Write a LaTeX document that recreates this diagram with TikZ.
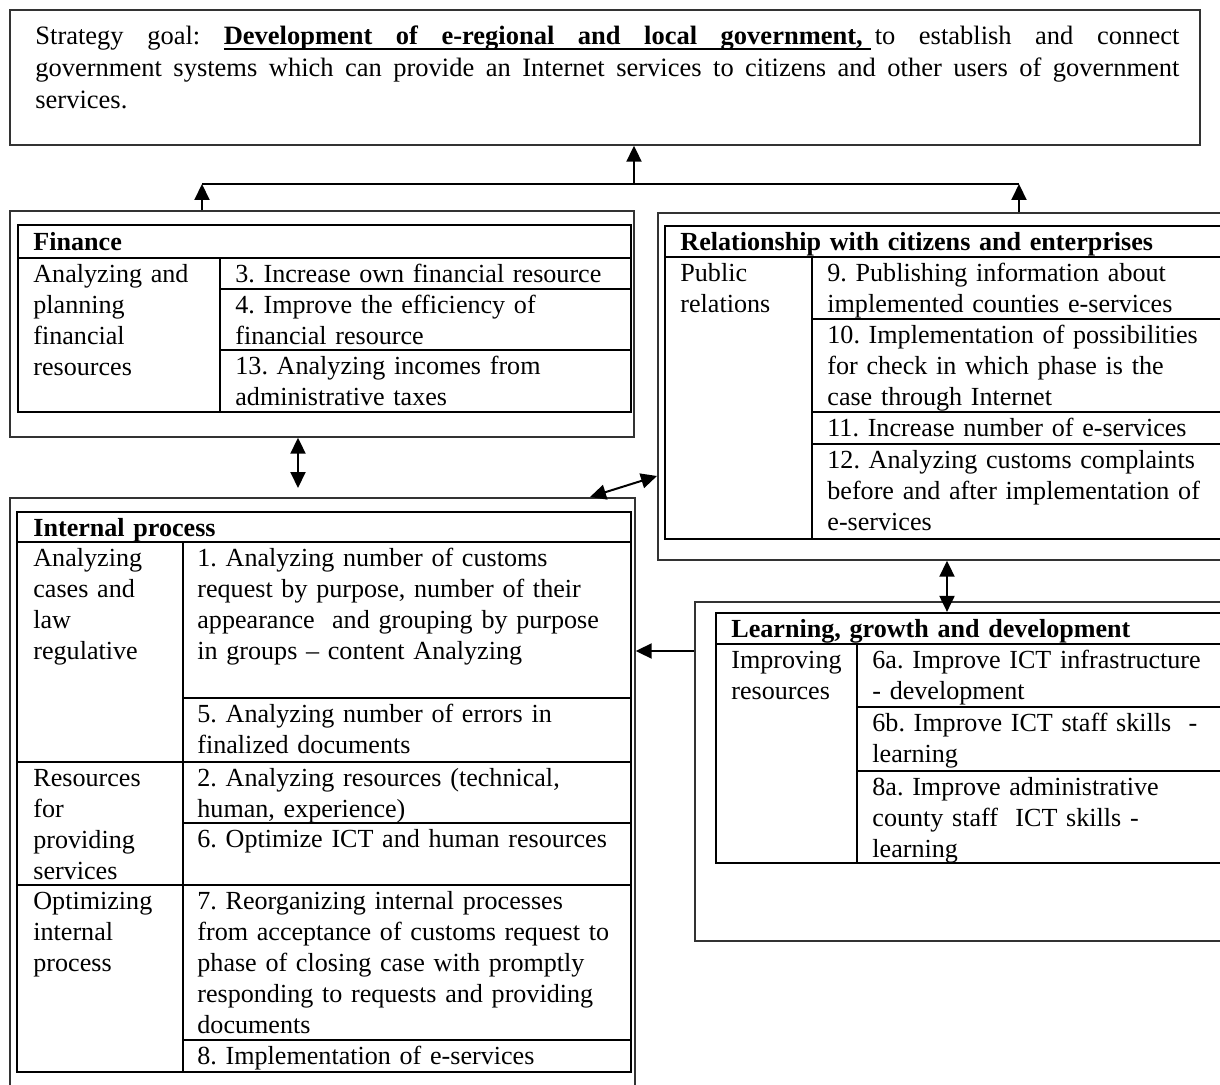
\documentclass[tikz,border=0pt]{standalone}
\usepackage{fontspec}
\setmainfont{Liberation Serif}
\usetikzlibrary{arrows.meta,fit}
\frenchspacing
\newcommand\ulword[1]{\setbox0=\hbox{#1}\leaders\hrule height -1.6pt depth 2.6pt\hskip\wd0\hskip-\wd0\box0}
\newcommand\ulsp{\leaders\hrule height -1.6pt depth 2.6pt\hskip\fontdimen2\font plus 1fil\relax}
\newcommand\ulend{\leaders\hrule height -1.6pt depth 2.6pt\hskip 4pt\relax}
\newcommand\filsp{\spaceskip=\fontdimen2\font plus 1fil\relax\xspaceskip=\spaceskip}
\tikzset{
  outerbox/.style={draw=black!80, line width=0.7pt, inner sep=0pt, fit={#1}},
  tblbox/.style={draw=black, line width=1.1pt, inner sep=0pt, fit={#1}},
  tbl/.style={draw=black, line width=1pt},
  txt/.style={anchor=north west, inner sep=0pt, text width=300pt, align=left,
    font=\fontsize{13.05pt}{15.5pt}\selectfont,
    execute at begin node={\rule{0pt}{12pt}}},
  conn/.style={line width=1pt},
  arr/.style={line width=1pt, -{Triangle[length=8pt,width=7.5pt]}},
  darr/.style={line width=1pt, {Triangle[length=8pt,width=7.5pt]}-{Triangle[length=8pt,width=7.5pt]}}
}
\begin{document}
\begin{tikzpicture}[x=0.5pt,y=-0.5pt]
\clip (0,0) rectangle (1220,1085);
\fill[white] (0,0) rectangle (1220,1085);

% ---------- goal box ----------
\node[outerbox={(10,10)(1200,145)}] (goal) {};
\node[txt, text width=600pt, font=\fontsize{13.25pt}{16pt}\selectfont] (goaltxt) at (35,20) {%
\makebox[572pt][s]{\filsp Strategy goal: {\bfseries\ulword{Development}\ulsp\ulword{of}\ulsp\ulword{e-regional}\ulsp\ulword{and}\ulsp\ulword{local}\ulsp\ulword{government,}\ulend}\hskip 2pt to establish and connect}\\
\makebox[572pt][s]{\filsp government systems which can provide an Internet services to citizens and other users of government}\\
services.};

% ---------- finance ----------
\node[outerbox={(10,211)(634,437)}] (fin) {};
\node[tblbox={(18,225)(631,412)}] (finT) {};
\draw[tbl] (18,258) -- (631,258);
\draw[tbl] (220,258) -- (220,412);
\draw[tbl] (220,289) -- (631,289) (220,350) -- (631,350);
\node[txt] (finH) at (33,226) {\textbf{Finance}};
\node[txt] (finL) at (33,258) {Analyzing and\\planning\\financial\\resources};
\node[txt] (f3) at (235,258) {3. Increase own financial resource};
\node[txt] (f4) at (235,289) {4. Improve the efficiency of\\financial resource};
\node[txt] (f13) at (235,350) {13. Analyzing incomes from\\administrative taxes};

% ---------- relationship ----------
\node[outerbox={(658,213)(1240,560)}] (rel) {};
\node[tblbox={(665,226)(1240,539)}] (relT) {};
\draw[tbl] (665,257) -- (1240,257);
\draw[tbl] (812,257) -- (812,539);
\draw[tbl] (812,319) -- (1240,319) (812,412) -- (1240,412) (812,444) -- (1240,444);
\node[txt] (relH) at (680,226) {\textbf{Relationship with citizens and enterprises}};
\node[txt] (relL) at (680,257) {Public\\relations};
\node[txt] (r9) at (827,257) {9. Publishing information about\\implemented counties e-services};
\node[txt] (r10) at (827,319) {10. Implementation of possibilities\\for check in which phase is the\\case through Internet};
\node[txt] (r11) at (827,412) {11. Increase number of e-services};
\node[txt] (r12) at (827,444) {12. Analyzing customs complaints\\before and after implementation of\\e-services};

% ---------- internal process ----------
\node[outerbox={(10,498)(635,1100)}] (int) {};
\node[tblbox={(17,512)(631,1072)}] (intT) {};
\draw[tbl] (17,542) -- (631,542);
\draw[tbl] (183,542) -- (183,1072);
\draw[tbl] (183,698) -- (631,698);
\draw[tbl] (17,762) -- (631,762);
\draw[tbl] (183,823) -- (631,823);
\draw[tbl] (17,885) -- (631,885);
\draw[tbl] (183,1040) -- (631,1040);
\node[txt] (intH) at (33,512) {\textbf{Internal process}};
\node[txt] (intL1) at (33,542) {Analyzing\\cases and\\law\\regulative};
\node[txt] (i1) at (197,542) {1. Analyzing number of customs\\request by purpose, number of their\\appearance\ \ and grouping by purpose\\in groups – content Analyzing};
\node[txt] (i5) at (197,698) {5. Analyzing number of errors in\\finalized documents};
\node[txt] (intL2) at (33,762) {Resources\\for\\providing\\services};
\node[txt] (i2) at (197,762) {2. Analyzing resources (technical,\\human, experience)};
\node[txt] (i6) at (197,823) {6. Optimize ICT and human resources};
\node[txt] (intL3) at (33,885) {Optimizing\\internal\\process};
\node[txt] (i7) at (197,885) {7. Reorganizing internal processes\\from acceptance of customs request to\\phase of closing case with promptly\\responding to requests and providing\\documents};
\node[txt] (i8) at (197,1040) {8. Implementation of e-services};

% ---------- learning ----------
\node[outerbox={(695,602)(1240,941)}] (learn) {};
\node[tblbox={(716,613)(1240,863)}] (learnT) {};
\draw[tbl] (716,644) -- (1240,644);
\draw[tbl] (857,644) -- (857,863);
\draw[tbl] (857,707) -- (1240,707) (857,771) -- (1240,771);
\node[txt] (lH) at (731,613) {\textbf{Learning, growth and development}};
\node[txt] (lL) at (731,644) {Improving\\resources};
\node[txt] (l6a) at (872,644) {6a. Improve ICT infrastructure\\- development};
\node[txt] (l6b) at (872,707) {6b. Improve ICT staff skills\ \ -\\learning};
\node[txt] (l8a) at (872,771) {8a. Improve administrative\\county staff\ \ ICT skills -\\learning};

% ---------- connectors ----------
\coordinate (jm) at (634,184);
\coordinate (jl) at (202,184);
\coordinate (jr) at (1019,184);
\draw[conn] (jl) -- (jr);
\draw[arr] (jm) -- (jm |- goal.south);
\draw[arr] (jl |- fin.north) -- (jl);
\draw[arr] (jr |- rel.north) -- (jr);
\coordinate (fa) at (298,488);
\draw[darr] (fa |- fin.south) -- (fa);
\coordinate (ia) at (590,497);
\coordinate (ra) at (657,476);
\draw[darr] (ia) -- (ra);
\coordinate (rl) at (947,0);
\draw[darr] (rel.south -| rl) -- (learnT.north -| rl);
\coordinate (li) at (0,651);
\draw[arr] (learn.west |- li) -- (int.east |- li);
\end{tikzpicture}
\end{document}
